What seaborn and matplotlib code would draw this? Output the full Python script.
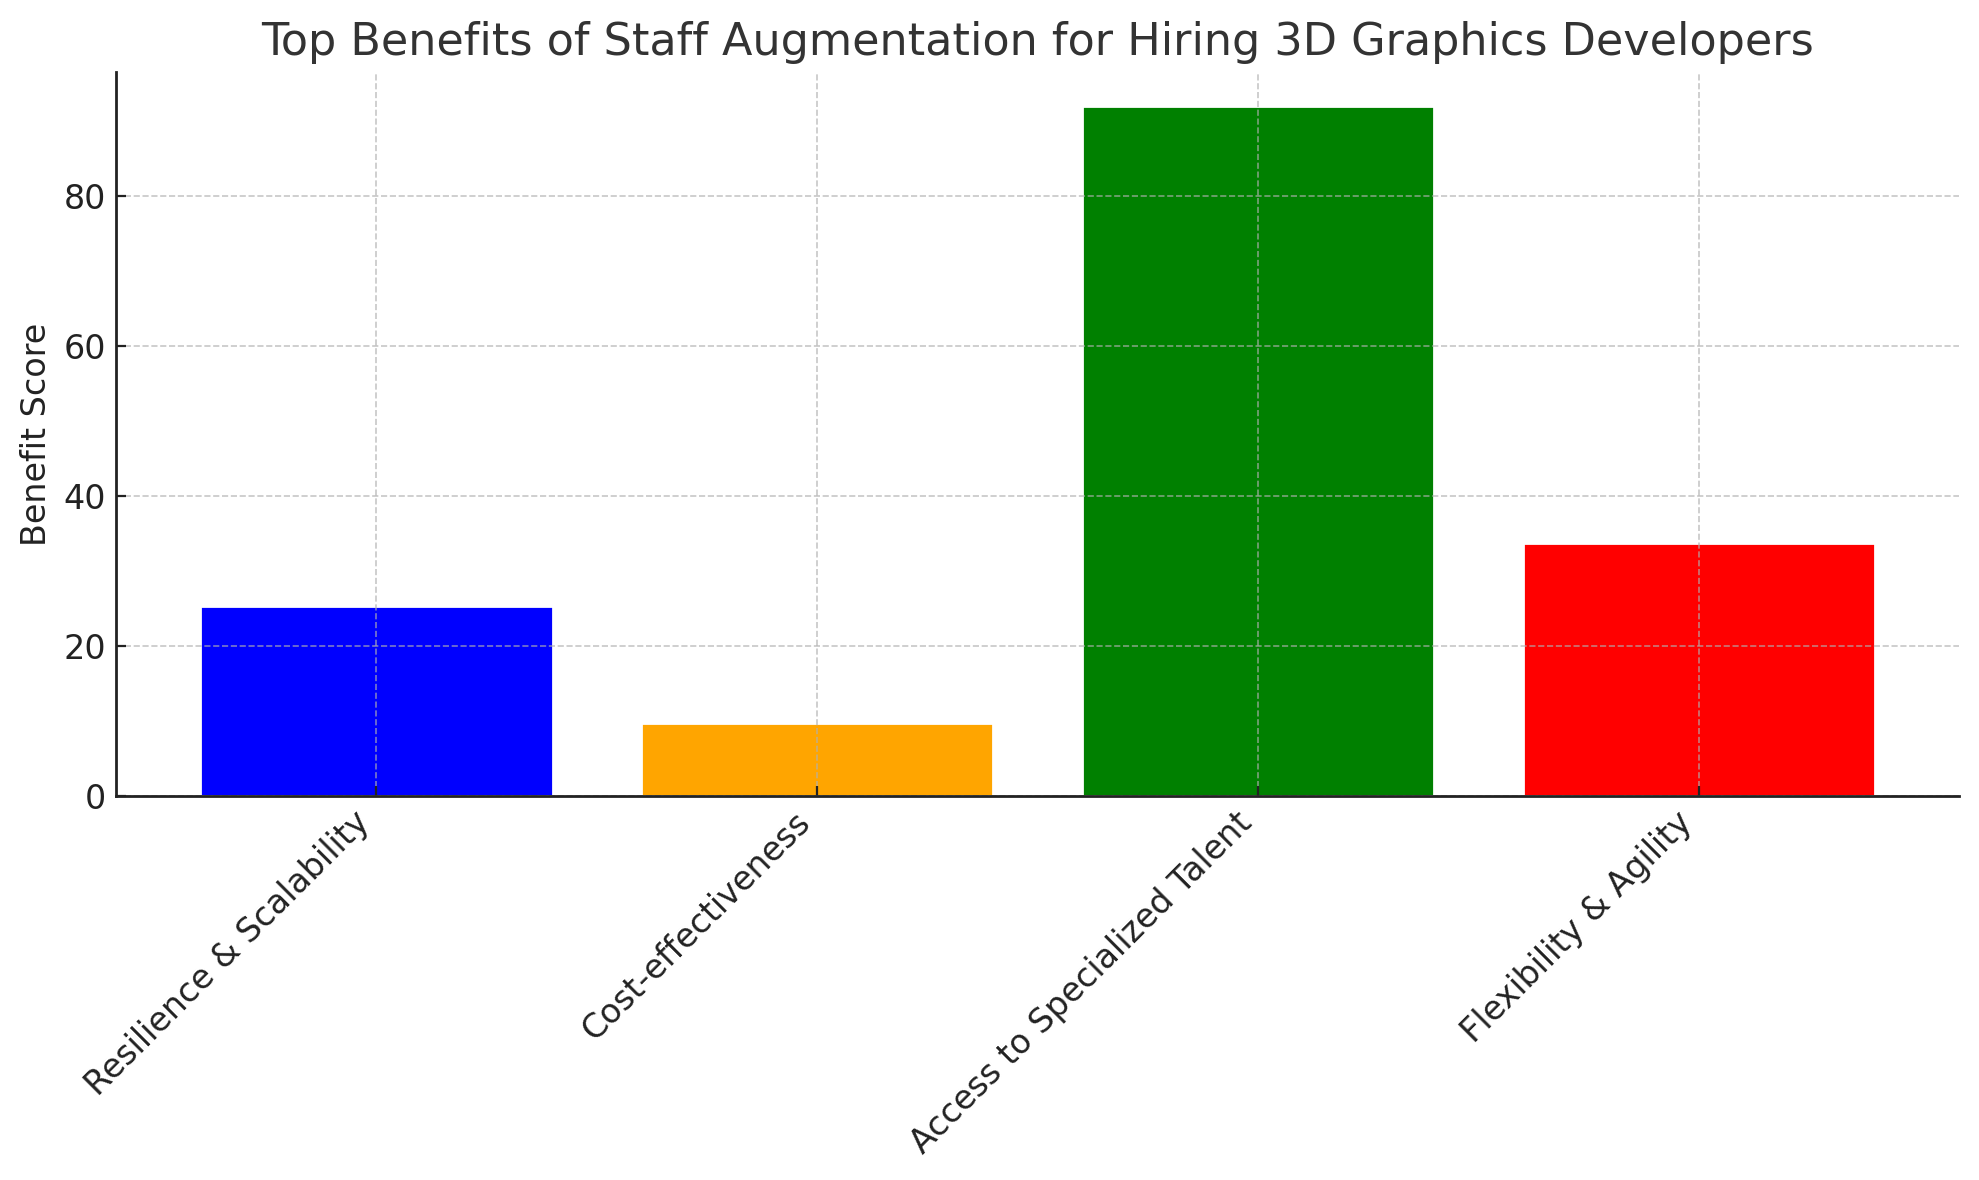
import pandas as pd
import seaborn as sns
from matplotlib import pyplot as plt

# Chart data
categories = ['Resilience & Scalability', 'Cost-effectiveness',
              'Access to Specialized Talent', 'Flexibility & Agility']
scores = [25.35, 9.7, 92.0, 33.7]
bar_colors = ['blue', 'orange', 'green', 'red']

sns.set_style("white")
plt.rcParams['font.family'] = ['DejaVu Sans']

df = pd.DataFrame({'benefit': categories, 'score': scores})

fig, ax = plt.subplots(figsize=(9.895, 5.9), dpi=200)
fig.subplots_adjust(left=0.0586, right=0.990, top=0.939, bottom=0.3254)

sns.barplot(data=df, x='benefit', y='score', hue='benefit', palette=bar_colors,
            saturation=1, width=0.8, legend=False, ax=ax)

ax.set_title('Top Benefits of Staff Augmentation for Hiring 3D Graphics Developers',
             fontsize=16, color='#333333')
ax.set_xlabel('')
ax.set_ylabel('Benefit Score', fontsize=12, color='#222222')
ax.set_xlim(-0.59, 3.59)
ax.tick_params(axis='both', direction='in', labelsize=12, colors='#222222',
               bottom=True, left=True, length=3.5, width=0.8)
plt.setp(ax.get_xticklabels(), rotation=45, ha='right')

ax.grid(True, linestyle='--', linewidth=0.6, color='#b0b0b0', alpha=0.7)
ax.set_axisbelow(False)
sns.despine(ax=ax)
for side in ['left', 'bottom']:
    ax.spines[side].set_color('#222222')
    ax.spines[side].set_linewidth(1.0)
    ax.spines[side].set_zorder(3)

plt.savefig('out.png', dpi=200)
